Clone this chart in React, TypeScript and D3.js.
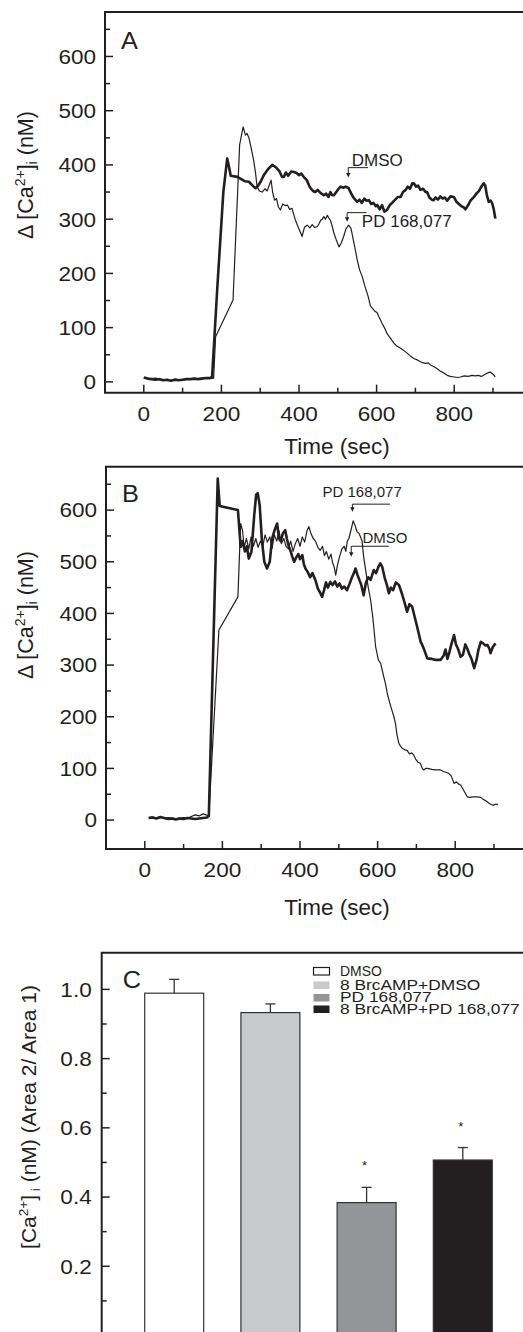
import React from "react";
import * as d3 from "d3";

const FONT = "'Liberation Sans', Arial, Helvetica, sans-serif";
const INK = "#231f20";

type Pt = [number, number];

// ---------- Panel A data (time s, Δ[Ca2+]i nM) ----------
const A_DMSO: Pt[] = [
  [0, 8], [10, 6], [20, 5], [30, 4], [40, 5], [50, 3], [60, 4], [70, 2], [80, 4], [90, 3], [100, 4],
  [110, 5], [120, 5], [130, 6], [140, 5], [150, 6], [160, 7], [170, 7], [176, 9], [190, 180], [205, 350],
  [215, 412], [220, 395], [224, 380], [241, 378], [260, 370], [271, 369], [283, 360], [288, 357], [295, 362],
  [301, 369], [310, 382], [320, 392], [331, 400], [340, 396], [350, 388], [356, 378], [361, 378], [366, 386],
  [372, 380], [380, 388], [387, 387], [394, 385], [400, 381], [406, 384], [412, 378], [420, 372], [426, 362],
  [430, 357], [436, 352], [442, 350], [448, 354], [456, 348], [464, 344], [470, 347], [476, 341], [481, 350],
  [486, 344], [490, 344], [496, 350], [502, 356], [507, 360], [514, 358], [520, 360], [528, 357], [534, 348],
  [540, 340], [546, 335], [550, 332], [556, 336], [562, 330], [568, 338], [574, 334], [580, 335], [586, 328],
  [592, 330], [598, 324], [602, 326], [608, 318], [614, 326], [620, 314], [627, 317], [634, 326], [640, 330],
  [648, 336], [655, 341], [662, 341], [668, 350], [675, 354], [680, 360], [686, 356], [692, 366], [696, 366],
  [702, 360], [707, 362], [713, 354], [720, 356], [726, 350], [730, 350], [736, 340], [742, 336], [747, 335],
  [752, 340], [758, 336], [764, 342], [770, 338], [776, 340], [782, 334], [790, 342], [799, 341], [806, 332],
  [812, 328], [818, 324], [824, 322], [829, 318], [836, 326], [842, 334], [851, 341], [858, 348], [864, 352],
  [870, 360], [876, 366], [880, 362], [884, 345], [889, 332], [894, 334], [898, 329], [902, 318], [906, 301],
];

const A_PD: Pt[] = [
  [0, 7], [10, 6], [20, 6], [30, 7], [40, 5], [50, 4], [60, 2], [70, 3], [80, 5], [90, 4], [100, 3],
  [110, 5], [120, 6], [130, 5], [140, 6], [150, 7], [160, 6], [170, 6], [180, 7], [185, 83], [230, 151],
  [247, 437], [256, 470], [262, 455], [266, 458], [271, 450], [277, 430], [283, 409], [288, 385], [292, 360],
  [298, 352], [305, 350], [312, 356], [318, 352], [323, 362], [328, 372], [332, 350], [337, 335], [342, 338],
  [347, 322], [352, 317], [358, 328], [364, 325], [370, 326], [376, 318], [382, 320], [390, 300], [398, 285],
  [404, 275], [408, 268], [414, 285], [421, 289], [428, 284], [434, 290], [440, 285], [447, 286], [452, 292],
  [456, 298], [460, 300], [464, 305], [468, 300], [473, 307], [477, 302], [481, 298], [486, 286], [490, 274],
  [496, 262], [503, 249], [509, 256], [515, 268], [521, 282], [528, 289], [534, 283], [540, 262], [546, 240],
  [550, 225], [556, 207], [563, 194], [570, 176], [578, 158], [584, 140], [590, 135], [596, 130], [601, 128],
  [606, 120], [614, 108], [620, 100], [627, 89], [636, 80], [644, 72], [652, 66], [662, 62], [670, 58],
  [680, 52], [688, 47], [696, 43], [706, 40], [716, 36], [726, 34], [733, 35], [739, 31], [748, 28], [756, 24],
  [764, 20], [772, 17], [782, 12], [790, 10], [800, 9], [808, 8], [816, 9], [826, 11], [836, 10], [846, 12],
  [854, 11], [862, 12], [870, 10], [880, 14], [888, 17], [893, 18], [900, 14], [906, 9],
];

// ---------- Panel B data ----------
const B_DMSO: Pt[] = [
  [10, 4], [20, 5], [30, 3], [40, 6], [50, 4], [60, 2], [70, 3], [80, 1], [90, 3], [100, 2], [110, 4],
  [120, 3], [130, 2], [140, 3], [150, 4], [160, 5], [165, 8], [188, 661], [193, 608], [210, 605], [240, 600],
  [247, 529], [252, 540], [258, 520], [263, 530], [268, 506], [275, 520], [282, 590], [287, 630], [291, 633],
  [296, 610], [302, 540], [308, 500], [315, 487], [322, 500], [328, 545], [334, 560], [341, 574], [346, 545],
  [350, 540], [356, 555], [362, 561], [366, 545], [371, 530], [376, 520], [380, 510], [385, 500], [390, 508],
  [396, 515], [400, 505], [406, 513], [410, 495], [414, 487], [420, 480], [426, 470], [432, 478], [440, 464],
  [446, 448], [452, 440], [457, 432], [462, 445], [467, 460], [472, 450], [478, 461], [484, 455], [490, 462],
  [496, 452], [502, 458], [508, 448], [514, 452], [521, 445], [528, 458], [534, 470], [540, 480], [543, 487],
  [548, 475], [553, 465], [558, 455], [564, 435], [570, 460], [576, 470], [582, 465], [590, 484], [596, 478],
  [602, 490], [607, 497], [612, 490], [618, 470], [624, 455], [629, 439], [634, 450], [640, 445], [647, 460],
  [655, 455], [662, 440], [668, 425], [676, 403], [682, 418], [689, 413], [695, 395], [700, 380], [706, 361],
  [711, 345], [715, 339], [720, 330], [728, 313], [740, 312], [750, 310], [762, 310], [770, 318], [775, 330],
  [780, 312], [785, 325], [790, 340], [797, 358], [802, 340], [808, 330], [814, 316], [820, 320], [826, 340],
  [831, 332], [836, 322], [842, 312], [849, 294], [855, 310], [860, 330], [866, 345], [872, 342], [878, 338],
  [883, 339], [888, 332], [891, 323], [897, 335], [904, 342],
];

const B_PD: Pt[] = [
  [10, 5], [20, 6], [30, 4], [40, 5], [50, 3], [60, 5], [70, 4], [80, 3], [90, 4], [100, 5], [110, 4],
  [120, 7], [130, 10], [140, 8], [150, 12], [158, 10], [165, 8], [191, 368], [240, 432], [247, 574],
  [252, 560], [256, 528], [262, 545], [268, 525], [274, 548], [280, 530], [286, 545], [292, 528], [298, 540],
  [304, 530], [310, 552], [316, 538], [322, 548], [328, 526], [334, 552], [340, 540], [346, 560], [352, 535],
  [358, 545], [364, 530], [370, 525], [376, 540], [382, 520], [388, 535], [394, 545], [400, 530], [406, 548],
  [412, 538], [418, 560], [423, 568], [428, 555], [434, 545], [440, 540], [446, 528], [452, 522], [458, 530],
  [463, 512], [468, 520], [474, 505], [480, 515], [484, 498], [488, 490], [492, 474], [497, 495], [502, 510],
  [508, 525], [514, 530], [518, 520], [522, 540], [526, 545], [531, 560], [537, 579], [542, 570], [547, 558],
  [552, 555], [556, 548], [560, 540], [564, 510], [570, 480], [576, 450], [582, 426], [588, 390], [595, 335],
  [602, 310], [608, 303], [615, 280], [620, 265], [625, 245], [632, 225], [638, 210], [642, 200], [646, 187],
  [650, 165], [655, 148], [662, 140], [670, 136], [676, 135], [682, 128], [688, 130], [693, 126], [698, 118],
  [704, 112], [710, 110], [715, 100], [719, 97], [724, 100], [728, 100], [740, 98], [750, 97], [762, 97],
  [770, 94], [778, 92], [784, 90], [790, 85], [797, 71], [803, 74], [808, 70], [814, 68], [820, 60],
  [826, 52], [831, 45], [838, 44], [846, 45], [856, 45], [866, 44], [872, 40], [878, 38], [883, 35],
  [888, 32], [893, 30], [899, 29], [905, 31], [910, 30],
];

// ---------- Axis ticks ----------
const TIME_TICKS = [0, 200, 400, 600, 800];
const TIME_MINOR = [100, 300, 500, 700, 900];
const CA_TICKS = [0, 100, 200, 300, 400, 500, 600];
const CA_MINOR = [50, 150, 250, 350, 450, 550, 650];

// ---------- Panel C data ----------
const C_GROUPS = ["DMSO", "8 BrcAMP+DMSO", "PD 168,077", "8 BrcAMP+PD 168,077"];
const C_MEANS = [0.989, 0.933, 0.384, 0.507];
const C_ERRORS = [0.04, 0.025, 0.044, 0.036];
const C_SIGNIF = [false, false, true, true];
const C_COLORS = ["#ffffff", "#c8c9cb", "#939598", "#231f20"];
const RATIO_TICKS = [0.2, 0.4, 0.6, 0.8, 1.0];
const RATIO_MINOR = [0.1, 0.3, 0.5, 0.7, 0.9];

type Note = { text: string; tipT: number; tipV: number; lineV: number; endT: number; textT: number; textV: number; size: number };

const A_NOTES: Note[] = [
  { text: "DMSO", tipT: 527, tipV: 377, lineV: 395, endT: 578, textT: 536, textV: 398.5, size: 17 },
  { text: "PD 168,077", tipT: 524, tipV: 295, lineV: 312, endT: 574, textT: 562, textV: 286, size: 17 },
];
const B_NOTES: Note[] = [
  { text: "PD 168,077", tipT: 535, tipV: 597, lineV: 611.5, endT: 632, textT: 458, textV: 625.5, size: 15 },
  { text: "DMSO", tipT: 532, tipV: 509.5, lineV: 530, endT: 629, textT: 561, textV: 535.5, size: 15 },
];

type PanelProps = {
  left: number; top: number; bottom: number; yDomain: [number, number];
  thick: Pt[]; thin: Pt[]; notes: Note[]; label: string; labelY: number; titleY: number; ylabY: number;
};

function YLabelCa({ x, y }: { x: number; y: number }) {
  return (
    <text transform={`translate(${x},${y}) rotate(-90)`} textAnchor="middle" fontFamily={FONT} fontSize={21.5} fill={INK}>
      Δ [Ca<tspan fontSize={14} dy={-8}>2+</tspan><tspan dy={8}>]</tspan><tspan fontSize={14} dy={4}>i</tspan><tspan dy={-4}> (nM)</tspan>
    </text>
  );
}

function TracePanel(p: PanelProps) {
  const right = 540;
  const x = d3.scaleLinear().domain([-100, 1000]).range([p.left, p.left + 1100 * 0.388]);
  const y = d3.scaleLinear().domain(p.yDomain).range([p.bottom, p.top]);
  const line = d3.line<Pt>().x((d) => x(d[0])).y((d) => y(d[1]));
  return (
    <g>
      <path d={line(p.thin) || ""} fill="none" stroke={INK} strokeWidth={1.2} strokeLinejoin="round" />
      <path d={line(p.thick) || ""} fill="none" stroke={INK} strokeWidth={2.6} strokeLinejoin="round" />
      <path d={`M${right},${p.top}H${p.left}V${p.bottom}H${right}`} fill="none" stroke={INK} strokeWidth={2} />
      {CA_TICKS.map((v) => (
        <g key={"y" + v}>
          <line x1={p.left} x2={p.left + 8} y1={y(v)} y2={y(v)} stroke={INK} strokeWidth={1.5} />
          <text transform={`translate(${p.left - 9},${y(v)}) scale(1.1,1)`} textAnchor="end" dy="0.36em" fontFamily={FONT} fontSize={20.5} fill={INK}>{v}</text>
        </g>
      ))}
      {CA_MINOR.map((v) => (
        <line key={"ym" + v} x1={p.left} x2={p.left + 5} y1={y(v)} y2={y(v)} stroke={INK} strokeWidth={1.5} />
      ))}
      {TIME_TICKS.map((t) => (
        <g key={"x" + t}>
          <line x1={x(t)} x2={x(t)} y1={p.bottom} y2={p.bottom - 8} stroke={INK} strokeWidth={1.5} />
          <text transform={`translate(${x(t)},${p.bottom + 20.5}) scale(1.1,1)`} textAnchor="middle" dy="0.36em" fontFamily={FONT} fontSize={20.5} fill={INK}>{t}</text>
        </g>
      ))}
      {TIME_MINOR.map((t) => (
        <line key={"xm" + t} x1={x(t)} x2={x(t)} y1={p.bottom} y2={p.bottom - 5} stroke={INK} strokeWidth={1.5} />
      ))}
      <text x={337} y={p.titleY} textAnchor="middle" dy="0.36em" fontFamily={FONT} fontSize={22.5} fill={INK}>Time (sec)</text>
      <YLabelCa x={33} y={p.ylabY} />
      <text transform={`translate(${p.left + 16},${p.labelY}) scale(1.1,1)`} dy="0.36em" fontFamily={FONT} fontSize={23} fill={INK}>{p.label}</text>
      {p.notes.map((n, i) => {
        const tx = x(n.tipT), ty = y(n.tipV), ly = y(n.lineV);
        return (
          <g key={"n" + i}>
            <path d={`M${x(n.endT)},${ly}H${tx}V${ty - 3}`} fill="none" stroke={INK} strokeWidth={1} />
            <path d={`M${tx - 2.2},${ty - 4.5}L${tx + 2.2},${ty - 4.5}L${tx},${ty}Z`} fill={INK} />
            <text x={x(n.textT)} y={y(n.textV)} fontFamily={FONT} fontSize={n.size} fill={INK}>{n.text}</text>
          </g>
        );
      })}
    </g>
  );
}

function BarPanel() {
  const left = 101.7, top = 952.7, bottom = 1335.5, right = 540;
  const y = d3.scaleLinear().domain([0, 1.106]).range([bottom, top]);
  const x = d3.scaleBand<string>().domain(C_GROUPS).range([126.1, 126.1 + 96.2 * 4]).paddingInner(0.387).paddingOuter(0.1935);
  const bw = x.bandwidth();
  const legendY = [975.5, 989.5, 1002, 1013.5];
  const legendSX = [0.9, 1.12, 1.12, 1.12];
  return (
    <g>
      {C_GROUPS.map((g, i) => {
        const x0 = x(g) as number;
        const cx = x0 + bw / 2;
        const yTop = y(C_MEANS[i]);
        const yErr = y(C_MEANS[i] + C_ERRORS[i]);
        return (
          <g key={g}>
            <rect x={x0} y={yTop} width={bw} height={bottom - yTop} fill={C_COLORS[i]} stroke="#333" strokeWidth={1.2} />
            <line x1={cx} x2={cx} y1={yTop} y2={yErr} stroke="#333" strokeWidth={1.3} />
            <line x1={cx - 5} x2={cx + 5} y1={yErr} y2={yErr} stroke="#333" strokeWidth={1.3} />
            {C_SIGNIF[i] && (
              <text x={cx - 2} y={yErr - 25 + 8} textAnchor="middle" fontFamily={FONT} fontSize={13} fill={INK}>*</text>
            )}
          </g>
        );
      })}
      <path d={`M${right},${top}H${left}V${bottom}`} fill="none" stroke={INK} strokeWidth={2} />
      {RATIO_TICKS.map((v) => (
        <g key={"c" + v}>
          <line x1={left} x2={left + 8} y1={y(v)} y2={y(v)} stroke={INK} strokeWidth={1.5} />
          <text transform={`translate(${left - 10},${y(v)}) scale(1.1,1)`} textAnchor="end" dy="0.36em" fontFamily={FONT} fontSize={20.5} fill={INK}>{v.toFixed(1)}</text>
        </g>
      ))}
      {RATIO_MINOR.map((v) => (
        <line key={"cm" + v} x1={left} x2={left + 5} y1={y(v)} y2={y(v)} stroke={INK} strokeWidth={1.5} />
      ))}
      <text transform={`translate(${left + 21},980) scale(1.1,1)`} dy="0.36em" fontFamily={FONT} fontSize={23} fill={INK}>C</text>
      {C_GROUPS.map((g, i) => (
        <g key={"l" + g}>
          <rect x={313.5} y={legendY[i] - 8} width={16} height={7.5} fill={C_COLORS[i]} stroke={i === 0 ? INK : "none"} strokeWidth={1.2} />
          <text transform={`translate(340,${legendY[i]}) scale(${legendSX[i]},1)`} fontFamily={FONT} fontSize={15.5} fill={INK}>{g}</text>
        </g>
      ))}
      <text transform={`translate(35.5,1117) rotate(-90)`} textAnchor="middle" fontFamily={FONT} fontSize={21} fill={INK}>
        [Ca<tspan fontSize={13.5} dy={-8}>2+</tspan><tspan dy={8}>]</tspan><tspan fontSize={13.5} dy={4}> i</tspan><tspan dy={-4}> (nM)  (Area 2/ Area 1)</tspan>
      </text>
    </g>
  );
}

export default function App() {
  return (
    <svg width={523} height={1332} style={{ position: "absolute", left: 0, top: 0, background: "#fff" }} xmlSpace="preserve">
      <rect x={0} y={0} width={523} height={1332} fill="#fff" />
      <TracePanel left={105} top={12} bottom={392.7} yDomain={[-20, 682]} thick={A_DMSO} thin={A_PD} notes={A_NOTES} label="A" labelY={40.5} titleY={446} ylabY={175} />
      <TracePanel left={106} top={466.7} bottom={849} yDomain={[-56, 684]} thick={B_DMSO} thin={B_PD} notes={B_NOTES} label="B" labelY={494} titleY={907} ylabY={615} />
      <BarPanel />
    </svg>
  );
}
